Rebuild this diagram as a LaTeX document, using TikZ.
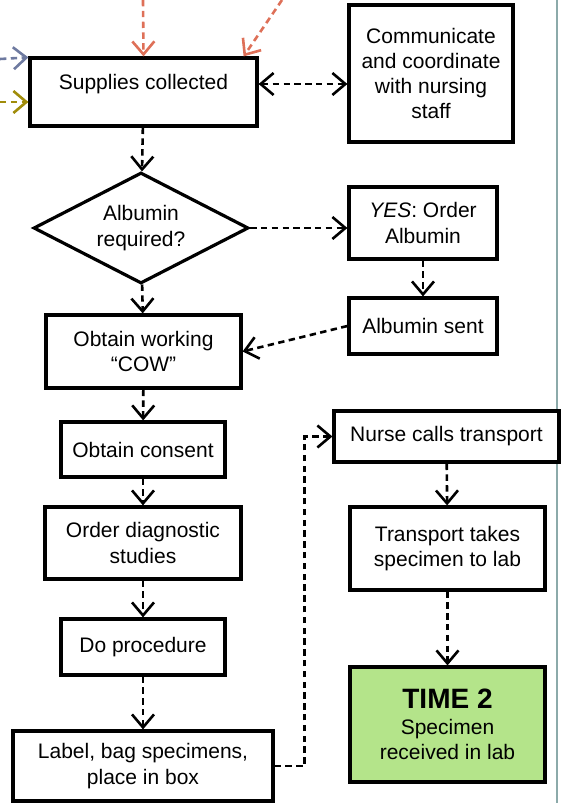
\documentclass[tikz,border=0pt]{standalone}
\usepackage{fontspec}
\setmainfont{Liberation Sans}
\usetikzlibrary{arrows.meta,shapes.geometric}

\definecolor{inred}{RGB}{222,112,88}
\definecolor{inblue}{RGB}{110,122,160}
\definecolor{inolive}{RGB}{160,140,10}
\definecolor{timegreen}{RGB}{180,228,138}
\definecolor{edgegray}{RGB}{140,170,170}

\begin{document}
\begin{tikzpicture}[x=0.5pt, y=-0.5pt, >={Straight Barb[length=6.5pt,width=11pt]},
    box/.style={draw, line width=1.6pt, fill=white, align=center, inner sep=0pt,
        font=\fontsize{10.5pt}{12.65pt}\selectfont},
    flow/.style={->, line width=1.3pt, dash pattern=on 3.2pt off 2.2pt}]
        \useasboundingbox (0,0) rectangle (561,803);
        \draw[edgegray, line width=1pt] (557,0) -- (557,803);

        \coordinate (inA) at (143,0);
        \coordinate (inB) at (282,0);
        \coordinate (inC) at (0,59);
        \coordinate (inD) at (0,102);

        \node[box, minimum width=113.5pt, minimum height=34pt, text depth=10pt] (sup) at (143.5,92) {Supplies collected};
        \node[box, minimum width=82pt, minimum height=68.5pt] (comm) at (431,73.5) {Communicate\\and coordinate\\with nursing\\staff};
        \node[box, diamond, shape aspect=2, minimum width=107.5pt, minimum height=55.5pt] (dia) at (141,228) {Albumin\\required?};
        \node[box, minimum width=74pt, minimum height=36pt] (yes) at (423,223) {\textit{YES}: Order\\Albumin};
        \node[box, minimum width=74pt, minimum height=28pt] (sent) at (423,326) {Albumin sent};
        \node[box, minimum width=97.5pt, minimum height=36.5pt] (cow) at (143.5,351.5) {Obtain working\\“COW”};
        \node[box, minimum width=82pt, minimum height=27.5pt] (consent) at (143,449.5) {Obtain consent};
        \node[box, minimum width=98pt, minimum height=36pt] (order) at (143,543) {Order diagnostic\\studies};
        \node[box, minimum width=82pt, minimum height=28pt] (proc) at (143,647) {Do procedure};
        \node[box, minimum width=130pt, minimum height=35pt] (label) at (143,766) {Label, bag specimens,\\place in box};
        \node[box, minimum width=112.5pt, minimum height=25.5pt] (nurse) at (446.5,436.5) {Nurse calls transport};
        \node[box, minimum width=97.5pt, minimum height=41.5pt] (trans) at (447.5,548.5) {Transport takes\\specimen to lab};
        \node[box, fill=timegreen, minimum width=97.5pt, minimum height=57.5pt] (time) at (447.5,724.5)
            {{\fontsize{14pt}{16pt}\selectfont\bfseries TIME 2}\\Specimen\\received in lab};

        \draw[flow, inred] (inA) -- (sup.north);
        \draw[flow, inred] (inB) -- ([xshift=-7.5pt]sup.north east);
        \draw[flow, inblue] (inC) -- ([yshift=-0.5pt]sup.north west);
        \draw[flow, inolive] (inD) -- ([yshift=-5pt]sup.west);

        \draw[flow, <->] ([yshift=4pt]sup.east) -- ([yshift=4pt]sup.east -| comm.west);
        \draw[flow] (sup) -- (dia);
        \draw[flow] (dia.east) -- (dia.east -| yes.west);
        \draw[flow] (yes) -- (sent);
        \draw[flow] (sent.west) -- (cow.east);
        \draw[flow] (dia) -- (cow);
        \draw[flow] (cow) -- (consent);
        \draw[flow] (consent) -- (order);
        \draw[flow] (order) -- (proc);
        \draw[flow] (proc) -- (label);
        \draw[flow] (label.east) -- ++(30,0) |- (nurse.west);
        \draw[flow] (nurse) -- (trans);
        \draw[flow] (trans) -- (time);
    \end{tikzpicture}
\end{document}
